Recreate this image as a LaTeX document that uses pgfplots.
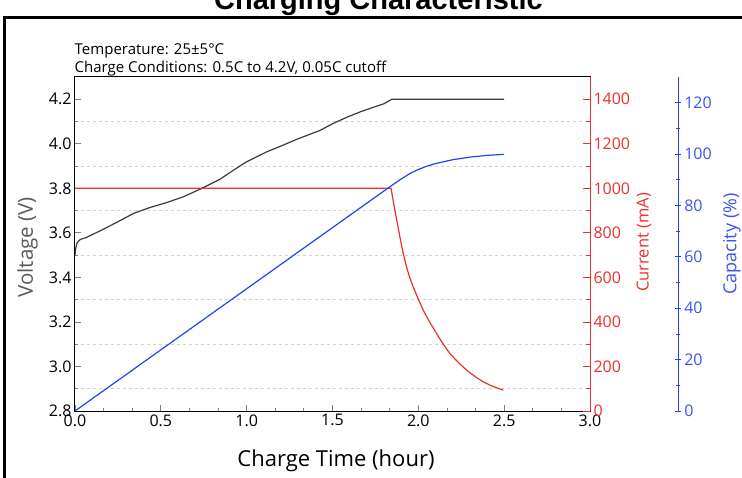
\documentclass[border=0pt]{standalone}
\usepackage{fontspec}
\setmainfont{Open Sans}
\newfontfamily\titlefont{Liberation Sans}
\usepackage{pgfplots}
\pgfplotsset{compat=1.18}
\usepackage{pgfplotstable}
\definecolor{vcol}{HTML}{3A3A3A}
\definecolor{vlab}{HTML}{5A5A5A}
\definecolor{icol}{HTML}{E8312F}
\definecolor{ccol}{HTML}{2244EE}
\definecolor{clab}{HTML}{3A55EE}

\pgfplotstableread{
t V
0 3.50
0.004 3.53
0.012 3.555
0.03 3.57
0.068 3.580
0.146 3.609
0.243 3.647
0.340 3.687
0.437 3.714
0.534 3.736
0.631 3.762
0.728 3.796
0.845 3.841
0.92 3.880
0.999 3.919
1.117 3.964
1.2 3.990
1.291 4.020
1.427 4.060
1.5 4.090
1.583 4.119
1.66 4.143
1.738 4.164
1.80 4.180
1.845 4.200
2.5 4.200
}\voltdata

\pgfplotstableread{
t I
0 1000
1.841 1000
1.864 899
1.893 780
1.912 708
1.932 645
1.951 596
1.971 556
2.0 502
2.029 452
2.068 397
2.107 347
2.145 300
2.184 258
2.233 218
2.282 183
2.330 155
2.378 131
2.435 110
2.495 94
}\curdata

\pgfplotstableread{
t C
0 0
1.841 87.6
1.9 90.3
1.95 92.4
2.0 94.0
2.05 95.3
2.1 96.3
2.2 97.8
2.3 98.8
2.4 99.5
2.5 99.9
}\capdata

\pgfplotsset{
  base/.style={
    scale only axis, width=515pt, height=334pt,
    xmin=0, xmax=3,
    /pgf/number format/assume math mode=true,
    tick align=inside,
    major tick length=6pt, minor tick length=3.5pt,
    ticklabel style={font=\fontsize{16}{16}\selectfont},
    axis line style={line width=1pt},
    every tick/.append style={line width=0.8pt},
  }
}

\begin{document}
\begin{tikzpicture}
\useasboundingbox (-75pt,-66pt) rectangle (667pt,411pt);
\clip (-75pt,-66pt) rectangle (667pt,411pt);
\draw[line width=3pt] (-70.3pt,-200pt) -- (-70.3pt,393pt) -- (800pt,393pt);
\node[anchor=base, inner sep=0, font=\titlefont\bfseries\fontsize{29}{29}\selectfont] at (303.5pt,401pt) {Charging Characteristic};
\node[anchor=base west, inner sep=0, font=\fontsize{15}{15}\selectfont] at (-0.5pt,356pt) {Temperature: 25±5°C};
\node[anchor=base west, inner sep=0, font=\fontsize{15}{15}\selectfont] at (-0.5pt,338.7pt) {Charge Conditions: 0.5C to 4.2V, 0.05C cutoff};

% Voltage axis
\begin{axis}[base,
  at={(0pt,0pt)}, anchor=south west,
  ymin=2.8, ymax=4.3,
  xtick={0,0.5,1,1.5,2,2.5,3}, minor x tick num=2,
  ytick={2.8,3.0,3.2,3.4,3.6,3.8,4.0,4.2},
  minor ytick={2.9,3.1,3.3,3.5,3.7,3.9,4.1},
  xtick pos=bottom, ytick pos=left,
  yminorgrids=true,
  minor grid style={dashed, gray!35, line width=0.6pt},
  xticklabel style={/pgf/number format/.cd, fixed, fixed zerofill, precision=1},
  yticklabel style={/pgf/number format/.cd, fixed, fixed zerofill, precision=1},
  xlabel={Charge Time (hour)},
  xlabel style={font=\fontsize{22}{22}\selectfont, at={(axis description cs:0.5068,-0.1668)}, anchor=base},
  ylabel={Voltage (V)},
  ylabel style={font=\fontsize{20.5}{20.5}\selectfont, text=vlab, at={(axis description cs:-0.0922,0.49)}, anchor=center, rotate=0},
]
\addplot[vcol, line width=1.2pt] table[x=t, y=V] {\voltdata};
\end{axis}

% Current axis
\begin{axis}[base,
  at={(0pt,0pt)}, anchor=south west,
  ymin=0, ymax=1500,
  axis y line*=right, hide x axis,
  ytick={0,200,...,1400}, minor y tick num=1,
  scaled y ticks=false,
  yticklabel style={/pgf/number format/1000 sep={}, text=icol},
  y axis line style={icol, line width=1pt},
  every tick/.append style={icol},
  major tick length=7pt, minor tick length=4.5pt,
  ylabel={Current (mA)},
  ylabel style={font=\fontsize{16.5}{16.5}\selectfont, text=icol, at={(axis description cs:1.1049,0.505)}, anchor=center, rotate=0},
]
\addplot[icol, line width=1.2pt] table[x=t, y=I] {\curdata};
\end{axis}

% Capacity data
\begin{axis}[base,
  at={(0pt,0pt)}, anchor=south west,
  ymin=0, ymax=130, hide axis,
]
\addplot[ccol, line width=1.2pt] table[x=t, y=C] {\capdata};
\end{axis}

% Capacity offset axis
\begin{axis}[base,
  width=10pt,
  at={(593pt,0pt)}, anchor=south west,
  xmin=0, xmax=1,
  ymin=0, ymax=130,
  axis y line=right, hide x axis,
  ytick={0,20,...,120}, minor y tick num=1,
  yticklabel style={text=clab},
  y axis line style={ccol, line width=1pt, -},
  every tick/.append style={ccol},
  major tick length=5.5pt, minor tick length=3.5pt,
  ylabel={Capacity (\%)},
  ylabel style={font=\fontsize{18}{18}\selectfont, text=clab, at={(axis description cs:6.4,0.5)}, anchor=center, rotate=0},
]
\end{axis}
\end{tikzpicture}
\end{document}
